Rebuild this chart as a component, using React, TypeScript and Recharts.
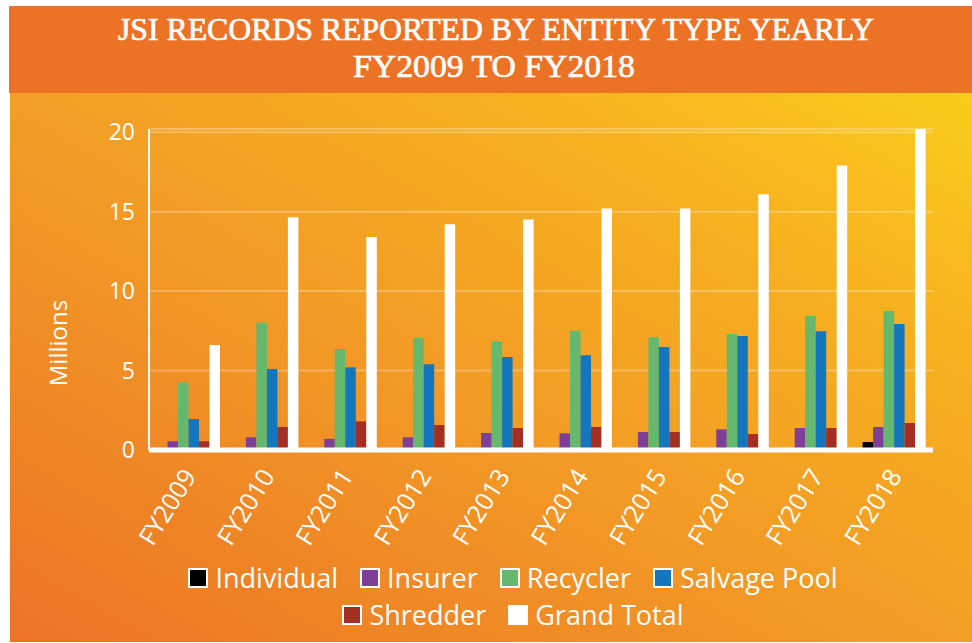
import { BarChart, Bar, XAxis, YAxis, CartesianGrid } from 'recharts';

const years = ['FY2009', 'FY2010', 'FY2011', 'FY2012', 'FY2013', 'FY2014', 'FY2015', 'FY2016', 'FY2017', 'FY2018'];
const individual = [0, 0, 0, 0, 0, 0, 0, 0, 0, 0.5];
const insurer = [0.55, 0.8, 0.7, 0.8, 1.07, 1.05, 1.13, 1.3, 1.38, 1.45];
const recycler = [4.25, 8.0, 6.35, 7.05, 6.85, 7.5, 7.1, 7.3, 8.43, 8.74];
const salvagePool = [1.95, 5.1, 5.2, 5.4, 5.85, 5.97, 6.48, 7.17, 7.48, 7.93];
const shredder = [0.55, 1.45, 1.8, 1.57, 1.38, 1.45, 1.13, 1.0, 1.38, 1.7];
const grandTotal = [6.6, 14.65, 13.4, 14.2, 14.5, 15.2, 15.2, 16.1, 17.9, 20.2];
const yTicks = [0, 5, 10, 15, 20];

const series = [
  { key: 'individual', name: 'Individual', color: '#000000' },
  { key: 'insurer', name: 'Insurer', color: '#7E3F98' },
  { key: 'recycler', name: 'Recycler', color: '#66B86F' },
  { key: 'salvagePool', name: 'Salvage Pool', color: '#1476BC' },
  { key: 'shredder', name: 'Shredder', color: '#A42E22' },
  { key: 'grandTotal', name: 'Grand Total', color: '#FFFFFF' },
];

const data = years.map((y, i) => ({
  year: y,
  individual: individual[i],
  insurer: insurer[i],
  recycler: recycler[i],
  salvagePool: salvagePool[i],
  shredder: shredder[i],
  grandTotal: grandTotal[i],
}));

const FONT = '"Open Sans", sans-serif';

// rotated year labels, ending just under the category centre
const XTick = ({ x, y, payload }: any) => {
  const ax = x + 9;
  const ay = y + 18;
  return (
    <text x={ax} y={ay} transform={`rotate(-58 ${ax} ${ay})`} textAnchor="end" fill="#fff" fontSize={25} fontFamily={FONT}>
      {payload.value}
    </text>
  );
};

export default function App() {
  return (
    <div
      style={{
        position: 'absolute', left: 0, top: 0, width: 972, height: 643, background: '#fff', overflow: 'hidden',
      }}
    >
      <div
        style={{
          position: 'absolute', left: 10, top: 93, width: 962, height: 549,
          background: 'linear-gradient(to top right, #EC7326 0%, #F29A25 45%, #F6B020 75%, #FACC1A 100%)',
        }}
      />
      <div style={{ position: 'absolute', left: 9, top: 6, width: 963, height: 87, background: '#EC7225' }} />
      <svg width={972} height={100} style={{ position: 'absolute', left: 0, top: 0 }}>
        <text x={118} y={40} textLength={756} lengthAdjust="spacingAndGlyphs" fill="#fff" stroke="#fff"
          strokeWidth={0.7} fontSize={32} fontFamily='"Liberation Serif", serif'>
          JSI RECORDS REPORTED BY ENTITY TYPE YEARLY
        </text>
        <text x={353} y={77} textLength={282} lengthAdjust="spacingAndGlyphs" fill="#fff" stroke="#fff"
          strokeWidth={0.7} fontSize={32} fontFamily='"Liberation Serif", serif'>
          FY2009 TO FY2018
        </text>
      </svg>

      <div style={{ position: 'absolute', left: 0, top: 0 }}>
        <BarChart width={972} height={643} data={data} margin={{ top: 129, right: 39, left: 0, bottom: 0 }}
          barGap={0} barSize={10.5}>
          <CartesianGrid vertical={false} stroke="rgba(255,255,255,0.28)" strokeWidth={2} />
          <XAxis dataKey="year" height={193} interval={0} tick={<XTick />} tickLine={false}
            axisLine={{ stroke: '#fff', strokeWidth: 5 }} />
          <YAxis width={149} domain={[0, 20.2]} ticks={yTicks} tickLine={false} tickMargin={8}
            axisLine={{ stroke: '#fff', strokeWidth: 2 }}
            tick={{ fill: '#fff', fontSize: 23, fontFamily: FONT }} />
          {series.map(s => (
            <Bar key={s.key} dataKey={s.key} name={s.name} fill={s.color} isAnimationActive={false} />
          ))}
        </BarChart>
      </div>

      <div
        style={{
          position: 'absolute', left: 57, top: 343, transform: 'translate(-50%, -50%) rotate(-90deg)',
          color: '#fff', fontSize: 24, fontFamily: FONT, whiteSpace: 'nowrap',
        }}
      >
        Millions
      </div>

      <div
        style={{
          position: 'absolute', left: 163, top: 559, width: 700, display: 'flex', flexWrap: 'wrap',
          justifyContent: 'center', columnGap: 22, rowGap: 0, fontFamily: FONT, fontSize: 27, color: '#fff',
        }}
      >
        {series.map(s => (
          <div key={s.key} style={{ display: 'flex', alignItems: 'center', height: 37 }}>
            <div
              style={{
                width: 16, height: 16, background: s.color, border: '2px solid #fff', marginRight: 7,
              }}
            />
            <span style={{ lineHeight: '37px' }}>{s.name}</span>
          </div>
        ))}
      </div>
    </div>
  );
}
